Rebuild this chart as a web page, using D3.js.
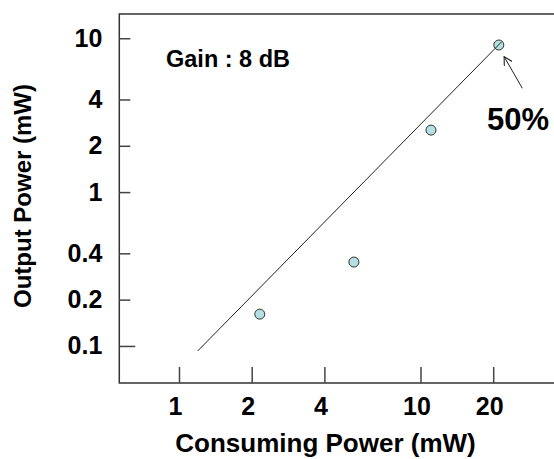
<!DOCTYPE html>
<html>
<head>
<meta charset="utf-8">
<script src="https://cdn.jsdelivr.net/npm/d3@7"></script>
<style>
  body { margin: 0; background: #fff; }
  text { font-family: "Liberation Sans", Arial, sans-serif; font-weight: bold; fill: #000; }
</style>
</head>
<body>
<div id="chart"></div>
<script>
// data
const consuming = [2.16, 5.3, 11.05, 21.1];   // mW
const output = [0.161, 0.351, 2.53, 9.04];    // mW
const xTicks = [1, 2, 4, 10, 20];
const yTicks = [0.1, 0.2, 0.4, 1, 2, 4, 10];
const fitLine = [[1.195, 0.0927], [21.7, 9.5]];
const arrowPts = [[26.4, 4.73], [22.2, 7.59]];

const width = 554, height = 459;
const frame = {left: 119.3, top: 14, bottom: 383, right: 560};

const svg = d3.select("#chart").append("svg")
    .attr("width", width)
    .attr("height", height);

// log scales
const xScale = d3.scaleLog().domain([1, 10]).range([179, 420.5]);
const yScale = d3.scaleLog().domain([1, 10]).range([192.1, 38.25]);

// frame (left, top, bottom; right side cut off)
svg.append("path")
    .attr("d", `M${frame.right},${frame.top}H${frame.left}V${frame.bottom}H${frame.right}`)
    .attr("fill", "none")
    .attr("stroke", "#333")
    .attr("stroke-width", 1.5);

// axes
const xAxis = svg.append("g")
    .attr("transform", `translate(0,${frame.bottom})`)
    .call(d3.axisBottom(xScale).tickValues(xTicks).tickFormat(d3.format("d")).tickSize(-16).tickPadding(14));

const yAxis = svg.append("g")
    .attr("transform", `translate(${frame.left},0)`)
    .call(d3.axisLeft(yScale).tickValues(yTicks).tickFormat(d => d).tickSize(-11).tickPadding(17));

svg.selectAll(".domain").remove();
svg.selectAll(".tick line").attr("stroke", "#444").attr("stroke-width", 1.5);
svg.selectAll(".tick text").style("font-size", "25px").attr("fill", "#000");
xAxis.selectAll(".tick text").attr("dx", -4);
yAxis.selectAll(".tick line").filter(d => d === 0.1).attr("x2", 16);

// fit line
const line = d3.line().x(d => xScale(d[0])).y(d => yScale(d[1]));

// points
svg.selectAll("circle")
    .data(consuming)
    .enter()
    .append("circle")
    .attr("cx", d => xScale(d))
    .attr("cy", (d, i) => yScale(output[i]))
    .attr("r", 5)
    .attr("fill", "#b6dfe1")
    .attr("stroke", "#333")
    .attr("stroke-width", 1);

// line drawn on top (it crosses the last point)
svg.append("path")
    .datum(fitLine)
    .attr("d", line)
    .attr("fill", "none")
    .attr("stroke", "#222")
    .attr("stroke-width", 1);

// arrow
svg.append("defs").append("marker")
    .attr("id", "arr")
    .attr("viewBox", "0 0 10 10")
    .attr("refX", 9).attr("refY", 5)
    .attr("markerWidth", 9).attr("markerHeight", 9)
    .attr("markerUnits", "userSpaceOnUse")
    .attr("orient", "auto")
    .append("path")
    .attr("d", "M0,0L9,5L0,10")
    .attr("fill", "none")
    .attr("stroke", "#222")
    .attr("stroke-width", 1.2);

svg.append("path")
    .datum(arrowPts)
    .attr("d", line)
    .attr("stroke", "#222")
    .attr("stroke-width", 1)
    .attr("marker-end", "url(#arr)");

// annotations
svg.append("text")
    .attr("x", 166)
    .attr("y", 66.5)
    .style("font-size", "23.5px")
    .text("Gain : 8 dB");

svg.append("text")
    .attr("x", 487)
    .attr("y", 130)
    .style("font-size", "31px")
    .text("50%");

// axis labels
svg.append("text")
    .attr("x", 325.5)
    .attr("y", 451.5)
    .attr("text-anchor", "middle")
    .style("font-size", "26px")
    .text("Consuming Power (mW)");

svg.append("text")
    .attr("transform", "rotate(-90)")
    .attr("x", -196)
    .attr("y", 31)
    .attr("text-anchor", "middle")
    .style("font-size", "24px")
    .text("Output Power (mW)");
</script>
</body>
</html>
